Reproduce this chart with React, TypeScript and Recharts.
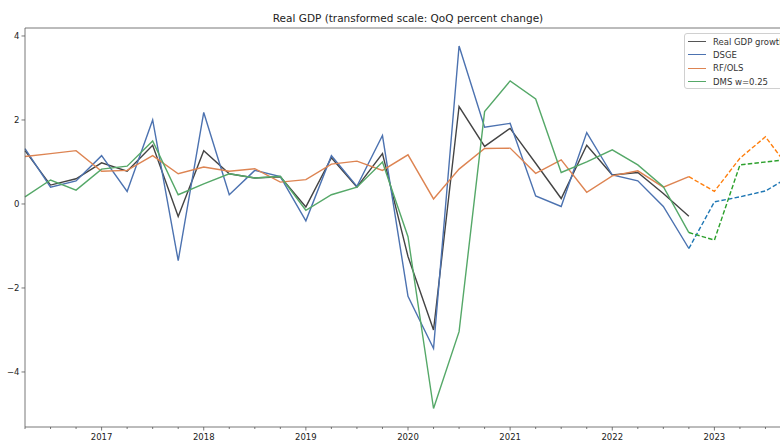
import React from 'react';
import { LineChart, Line, XAxis, YAxis, ReferenceLine } from 'recharts';

const quarters = [
  '2016Q2', '2016Q3', '2016Q4',
  '2017Q1', '2017Q2', '2017Q3', '2017Q4',
  '2018Q1', '2018Q2', '2018Q3', '2018Q4',
  '2019Q1', '2019Q2', '2019Q3', '2019Q4',
  '2020Q1', '2020Q2', '2020Q3', '2020Q4',
  '2021Q1', '2021Q2', '2021Q3', '2021Q4',
  '2022Q1', '2022Q2', '2022Q3', '2022Q4',
  '2023Q1', '2023Q2', '2023Q3', '2023Q4',
];

// observed / in-sample, 2016Q2..2022Q4
const actual = [1.27, 0.45, 0.6, 0.98, 0.78, 1.4, -0.3, 1.27, 0.72, 0.62, 0.65, -0.07, 1.1, 0.4, 1.2, -1.25, -3.0, 2.32, 1.37, 1.8, 0.97, 0.13, 1.4, 0.69, 0.75, 0.25, -0.29];
const dsge = [1.32, 0.4, 0.55, 1.15, 0.3, 2.0, -1.35, 2.18, 0.22, 0.8, 0.65, -0.4, 1.15, 0.42, 1.63, -2.2, -3.44, 3.76, 1.83, 1.92, 0.19, -0.06, 1.7, 0.69, 0.55, -0.06, -1.06];
const rfOls = [1.13, 1.2, 1.27, 0.78, 0.8, 1.15, 0.72, 0.88, 0.78, 0.84, 0.52, 0.58, 0.95, 1.02, 0.8, 1.17, 0.12, 0.83, 1.32, 1.33, 0.73, 1.05, 0.28, 0.67, 0.79, 0.4, 0.65];
const dms = [0.17, 0.57, 0.33, 0.83, 0.9, 1.5, 0.22, 0.48, 0.72, 0.62, 0.66, -0.15, 0.22, 0.4, 1.0, -0.78, -4.87, -3.04, 2.2, 2.93, 2.5, 0.75, 1.0, 1.29, 0.93, 0.41, -0.68];

// forecasts, 2022Q4..2023Q4
const forecastStart = 26;
const dsgeFc = [-1.06, 0.05, 0.17, 0.31, 0.67];
const rfOlsFc = [0.65, 0.3, 1.09, 1.6, 0.79];
const dmsFc = [-0.68, -0.86, 0.93, 1.0, 1.07];

const yTicks = [-4, -2, 0, 2, 4];
const yDomain = [-5.31, 4.19];

const legendItems = [
  { label: 'Real GDP growth', color: '#555555' },
  { label: 'DSGE', color: '#4c72b0' },
  { label: 'RF/OLS', color: '#dd8452' },
  { label: 'DMS w=0.25', color: '#55a868' },
];

const toYear = (q: string) => Number(q.slice(0, 4)) + (Number(q.slice(5)) - 1) / 4;

const data = quarters.map((q, i) => {
  const j = i - forecastStart;
  return {
    t: toYear(q),
    actual: actual[i],
    dsge: dsge[i],
    rfOls: rfOls[i],
    dms: dms[i],
    dsgeFc: j >= 0 ? dsgeFc[j] : undefined,
    rfOlsFc: j >= 0 ? rfOlsFc[j] : undefined,
    dmsFc: j >= 0 ? dmsFc[j] : undefined,
  };
});

const xTicks = quarters.map(toYear);
const font = 'DejaVu Sans, sans-serif';
const spine = '#555';

const QuarterTick = (props: any) => {
  const { x, y, payload } = props;
  const v = payload.value;
  const major = Math.abs(v - Math.round(v)) < 1e-6;
  return (
    <g>
      <line x1={x} x2={x} y1={y} y2={y + (major ? 3.5 : 2)} stroke={spine} strokeWidth={0.8} />
      {major && (
        <text x={x} y={y + 13} textAnchor="middle" fontSize={8.5} fill="#222" fontFamily={font}>
          {Math.round(v)}
        </text>
      )}
    </g>
  );
};

const App = () => {
  return (
    <div style={{ position: 'fixed', left: 0, top: 0, width: 780, height: 441, overflow: 'hidden', background: '#fff' }}>
      <div
        style={{
          position: 'absolute', left: 25, width: 766, top: 12, textAlign: 'center',
          fontFamily: font, fontSize: 10.5, color: '#222', lineHeight: '12px',
        }}
      >
        Real GDP (transformed scale: QoQ percent change)
      </div>
      <LineChart width={800} height={441} data={data} margin={{ top: 28, right: 9, bottom: 0, left: 0 }}>
        <XAxis
          dataKey="t"
          type="number"
          domain={[xTicks[0], xTicks[xTicks.length - 1]]}
          ticks={xTicks}
          interval={0}
          tick={<QuarterTick />}
          tickLine={false}
          tickSize={0}
          tickMargin={0}
          height={14}
          axisLine={{ stroke: spine, strokeWidth: 0.8 }}
        />
        <YAxis
          type="number"
          domain={yDomain}
          ticks={yTicks}
          width={25}
          tickSize={3.5}
          tickMargin={2}
          tickFormatter={(v: number) => String(v).replace('-', '\u2212')}
          tick={{ fontSize: 8.5, fill: '#222', fontFamily: font }}
          tickLine={{ stroke: spine, strokeWidth: 0.8 }}
          axisLine={{ stroke: spine, strokeWidth: 0.8 }}
        />
        <ReferenceLine y={yDomain[1]} stroke={spine} strokeWidth={0.8} />
        <Line dataKey="actual" stroke="#444444" strokeWidth={1.4} dot={false} isAnimationActive={false} />
        <Line dataKey="dsge" stroke="#4c72b0" strokeWidth={1.4} dot={false} isAnimationActive={false} />
        <Line dataKey="rfOls" stroke="#dd8452" strokeWidth={1.4} dot={false} isAnimationActive={false} />
        <Line dataKey="dms" stroke="#55a868" strokeWidth={1.4} dot={false} isAnimationActive={false} />
        <Line dataKey="dsgeFc" stroke="#1f77b4" strokeWidth={1.4} strokeDasharray="4.5 2.2" dot={false} isAnimationActive={false} />
        <Line dataKey="rfOlsFc" stroke="#ff7f0e" strokeWidth={1.4} strokeDasharray="4.5 2.2" dot={false} isAnimationActive={false} />
        <Line dataKey="dmsFc" stroke="#2ca02c" strokeWidth={1.4} strokeDasharray="4.5 2.2" dot={false} isAnimationActive={false} />
      </LineChart>
      <div
        style={{
          position: 'absolute', left: 684, top: 33, width: 110, height: 56,
          border: '1px solid #d0d0d0', borderRadius: 3, background: 'rgba(255,255,255,0.8)',
          boxSizing: 'border-box', fontFamily: font, fontSize: 8.5, color: '#333',
        }}
      >
        {legendItems.map((it, i) => (
          <div key={it.label} style={{ position: 'absolute', left: 3, top: 1.5 + i * 13.4, height: 12, display: 'flex', alignItems: 'center', whiteSpace: 'nowrap' }}>
            <span style={{ display: 'inline-block', width: 18, height: 0, borderTop: `1.4px solid ${it.color}`, marginRight: 7 }} />
            <span>{it.label}</span>
          </div>
        ))}
      </div>
    </div>
  );
};

export default App;
